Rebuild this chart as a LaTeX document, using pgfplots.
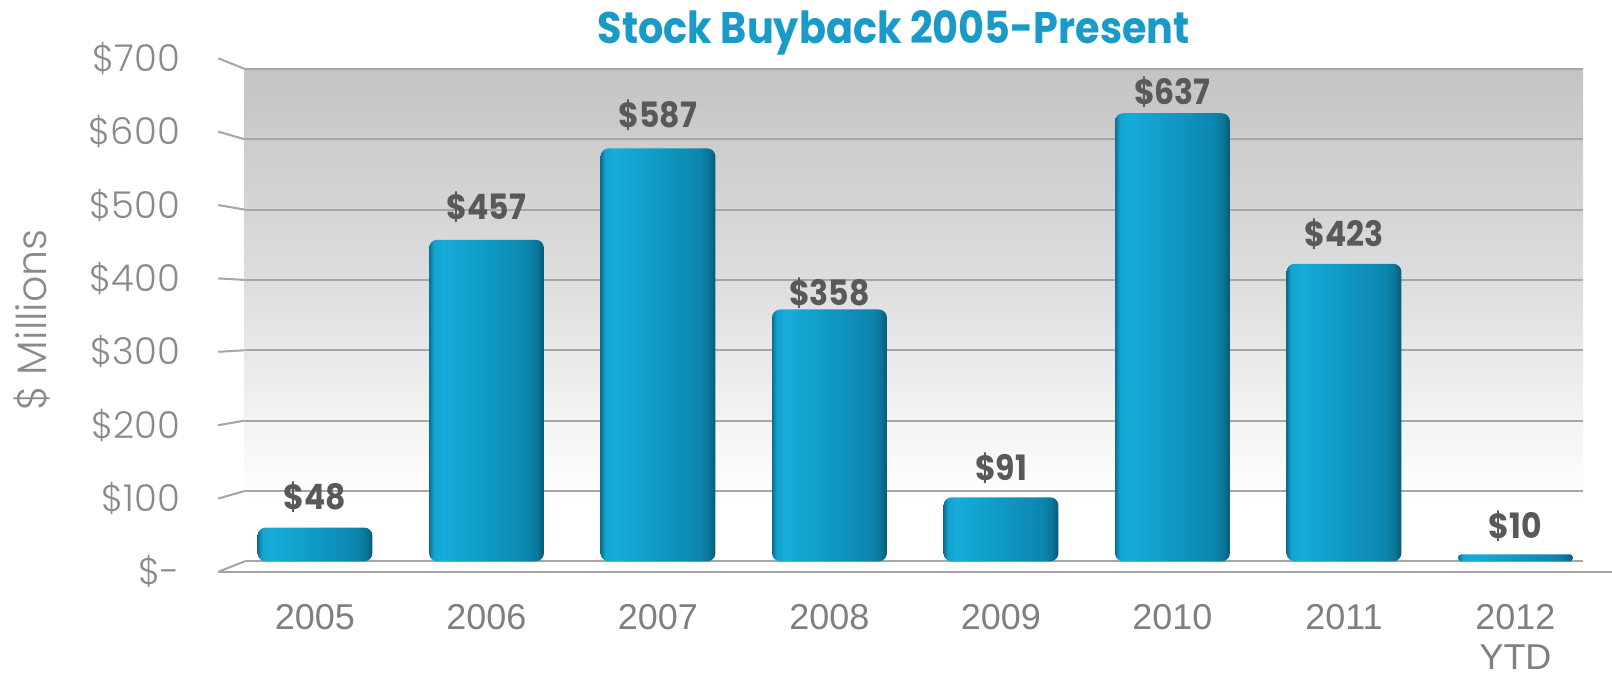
\documentclass[border=0pt]{standalone}
\usepackage{fontspec}
\usepackage{pgfplots}
\pgfplotsset{compat=1.18}
\usepackage{pgfplotstable}
\setmainfont{Liberation Sans}
\newfontfamily\gothiclight{Poppins Light}
\newfontfamily\gothic{Poppins}[FakeStretch=0.9]

\definecolor{titleblue}{HTML}{1A9BC7}
\definecolor{tickgray}{HTML}{8A8A8A}
\definecolor{labgray}{HTML}{595959}
\definecolor{gridgray}{HTML}{A6A6A6}
\definecolor{xgray}{HTML}{7F7F7F}
\definecolor{wallA}{HTML}{F2F2F2}
\definecolor{wallB}{HTML}{DEDEDE}
\definecolor{wallC}{HTML}{C4C4C4}
\definecolor{barA}{HTML}{0B6E8E}
\definecolor{barB}{HTML}{13A3D0}
\definecolor{barC}{HTML}{16ACD9}
\definecolor{barD}{HTML}{0F99C5}
\definecolor{barE}{HTML}{0C86AE}
\definecolor{barF}{HTML}{0A7699}
\definecolor{barG}{HTML}{075A76}

\pgfdeclareverticalshading{wallshade}{100bp}{color(0bp)=(white); color(31bp)=(white);
  color(40bp)=(wallA); color(53bp)=(wallB); color(75bp)=(wallC); color(100bp)=(wallC)}
\pgfdeclarehorizontalshading{barshade}{100bp}{color(0bp)=(barA); color(25bp)=(barA);
  color(27bp)=(barB); color(31bp)=(barC); color(50bp)=(barD); color(68bp)=(barE);
  color(72bp)=(barF); color(75bp)=(barG); color(100bp)=(barG)}

% tick label raised to the end of its slanted stub
\newcommand\tl[2]{\raisebox{#1}[\height][\depth]{\$#2}}

% x = year index, y = buyback in $ millions, dy = label offset (bp)
\pgfplotstableread{
x y dy
0 48 9
1 457 10
2 587 10
3 358 2
4 91 8
5 637 4
6 423 8.5
7 10 7.5
}\buyback

\begin{document}
\begin{tikzpicture}
\useasboundingbox (0,0) rectangle (784bp,328bp);
\begin{axis}[
  at={(119bp,55bp)}, anchor=south west,
  width=651bp, height=239.5bp, scale only axis,
  xmin=-0.41, xmax=7.395, ymin=0, ymax=700,
  clip=false,
  axis line style={draw=none},
  major tick length=0pt,
  axis background/.style={shade, shading=wallshade, draw=none},
  ymajorgrids, grid style={gridgray, line width=1bp},
  ytick={0,100,...,700},
  yticklabels={\tl{-5.1bp}{-},\tl{-3.7bp}{100},\tl{-2.2bp}{200},\tl{-0.7bp}{300},
    \tl{0.7bp}{400},\tl{2.2bp}{500},\tl{3.7bp}{600},\tl{5.1bp}{700}},
  yticklabel style={font=\gothiclight\fontsize{18bp}{20bp}\selectfont, text=tickgray,
    anchor=east, xshift=-28bp},
  xtick={0,...,7},
  xticklabels={2005,2006,2007,2008,2009,2010,2011,{2012\\YTD}},
  xticklabel style={font=\fontsize{17.5bp}{19.5bp}\selectfont, text=xgray,
    align=center, anchor=north, yshift=-17.5bp},
  title={Stock Buyback 2005-Present},
  every axis title/.style={at={(rel axis cs:0.485,1)}, anchor=base, yshift=12.5bp,
    font=\gothic\bfseries\fontsize{21.5bp}{23bp}\selectfont, text=titleblue},
  ylabel={\$ Millions},
  every axis y label/.style={at={(rel axis cs:0,0.49)}, xshift=-103.5bp, rotate=90,
    anchor=center, font=\gothiclight\fontsize{20bp}{22bp}\selectfont, text=tickgray},
  ybar, bar width=0.67, bar shift=0pt,
  nodes near coords={\$\pgfmathprintnumber[assume math mode=true]{\pgfplotspointmeta}},
  visualization depends on={\thisrow{dy} \as \labdy},
  every node near coord/.append style={anchor=base, yshift=\labdy bp,
    font=\gothic\bfseries\fontsize{17bp}{19bp}\selectfont, text=labgray},
]
% one plot per bar, so that each bar carries its own shading
\pgfplotsinvokeforeach{0,...,6}{
  \addplot[draw=none, shade, shading=barshade, rounded corners=4bp]
    table[x=x, y=y, restrict expr to domain={\coordindex}{#1:#1}] {\buyback};
}
% the low 2012 bar: smaller corners
\addplot[draw=none, shade, shading=barshade, rounded corners=1.6bp]
  table[x=x, y=y, restrict expr to domain={\coordindex}{7:7}] {\buyback};
% slanted stubs of the floor and front floor line
\draw[gridgray, line width=1bp]
  (axis cs:-0.564,-15) -- (axis cs:-0.41,0)
  (axis cs:-0.564,89.25) -- (axis cs:-0.41,100)
  (axis cs:-0.564,193.5) -- (axis cs:-0.41,200)
  (axis cs:-0.564,297.85) -- (axis cs:-0.41,300)
  (axis cs:-0.564,402.15) -- (axis cs:-0.41,400)
  (axis cs:-0.564,506.45) -- (axis cs:-0.41,500)
  (axis cs:-0.564,610.75) -- (axis cs:-0.41,600)
  (axis cs:-0.564,715) -- (axis cs:-0.41,700);
\draw[gridgray, line width=1.2bp] (axis cs:-0.564,-15) -- (axis cs:7.56,-15);
\end{axis}
\end{tikzpicture}
\end{document}
